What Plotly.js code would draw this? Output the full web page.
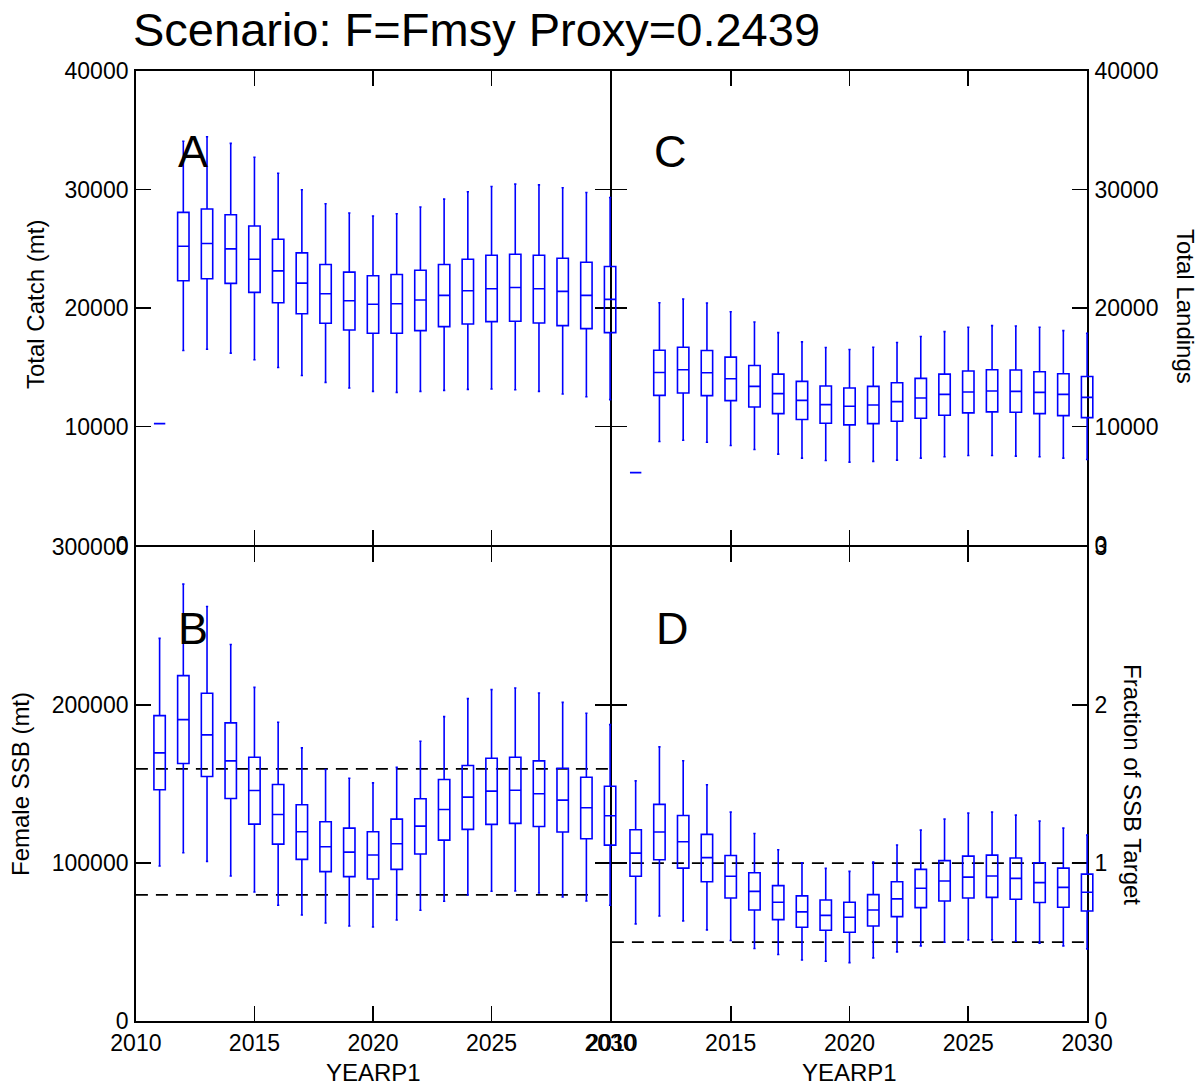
<!DOCTYPE html>
<html>
<head>
<meta charset="utf-8">
<script src="https://cdn.plot.ly/plotly-3.0.1.min.js"></script>
<style>html,body{margin:0;padding:0;background:#fff;}#chart{width:1204px;height:1087px;}</style>
</head>
<body>
<div id="chart"></div>
<script>
// ---------------- DATA ----------------
const years = [2011,2012,2013,2014,2015,2016,2017,2018,2019,2020,2021,2022,2023,2024,2025,2026,2027,2028,2029,2030];

// Panel A: Total Catch (mt)
const catchHigh = [10250,34060,34450,33890,32715,31370,29975,28795,28010,27755,27955,28515,29185,29805,30250,30445,30390,30140,29745,29325];
const catchQ3   = [10250,28067,28345,27870,26915,25800,24650,23670,23025,22715,22830,23190,23670,24115,24450,24535,24450,24200,23865,23505];
const catchMed  = [10250,25210,25435,24985,24115,23135,22100,21200,20610,20310,20360,20670,21065,21455,21620,21735,21620,21400,21065,20730];
const catchQ1   = [10250,22297,22465,22075,21320,20445,19520,18710,18150,17870,17870,18090,18430,18655,18850,18880,18740,18510,18260,17925];
const catchLow  = [10250,16415,16525,16190,15630,14985,14310,13725,13250,12970,12885,12970,13050,13135,13165,13110,12970,12745,12520,12270];

// Panel C: Total Landings
const landHigh = [6110,20445,20755,20420,19690,18825,17925,17140,16665,16495,16695,17085,17590,18010,18375,18510,18485,18375,18090,17870];
const landQ3   = [6110,16440,16695,16415,15855,15155,14425,13810,13420,13250,13390,13695,14060,14425,14680,14790,14765,14620,14455,14225];
const landMed  = [6110,14565,14790,14535,14035,13390,12775,12210,11850,11710,11820,12100,12410,12715,12915,13000,12970,12885,12715,12460];
const landQ1   = [6110,12630,12830,12605,12185,11650,11090,10590,10280,10140,10250,10445,10700,10950,11150,11235,11205,11090,10925,10755];
const landLow  = [6110,8740,8850,8680,8405,8065,7675,7340,7140,7000,7060,7170,7340,7450,7560,7560,7505,7450,7340,7225];

// Panel B: Female SSB (mt)
const ssbHigh = [242100,276450,262300,238300,211140,189030,172870,159160,153680,150740,160620,177040,192640,204010,209690,210750,207600,201670,194730,187580];
const ssbQ3   = [193270,218540,207370,188650,166930,149690,136870,126130,122090,119810,127770,140650,152850,161690,166300,166930,164650,159980,154300,148620];
const ssbMed  = [169700,190740,181070,164650,145900,130740,119810,110340,106930,105040,112220,123350,133900,141670,145480,146090,143820,139770,134970,129920];
const ssbQ1   = [146330,162950,154740,140850,124620,111990,102320,94550,91390,89880,96000,105670,114510,121270,124430,125060,123160,119600,115390,111350];
const ssbLow  = [98100,106540,101060,91770,81680,73270,67140,62090,60190,59560,63980,70110,75790,79770,82110,82300,81040,78510,75980,73270];

// Panel D: Fraction of SSB Target
const fracHigh = [1.520,1.735,1.647,1.495,1.322,1.187,1.084,1.002,0.966,0.947,1.006,1.114,1.208,1.278,1.316,1.322,1.303,1.265,1.221,1.177];
const fracQ3   = [1.211,1.371,1.301,1.181,1.048,0.939,0.857,0.792,0.766,0.752,0.800,0.882,0.960,1.015,1.044,1.050,1.032,1.002,0.968,0.930];
const fracMed  = [1.063,1.196,1.135,1.034,0.916,0.821,0.752,0.691,0.669,0.657,0.703,0.773,0.840,0.886,0.911,0.918,0.903,0.876,0.846,0.815];
const fracQ1   = [0.916,1.021,0.968,0.882,0.779,0.703,0.642,0.594,0.575,0.562,0.602,0.661,0.718,0.760,0.779,0.783,0.771,0.750,0.720,0.697];
const fracLow  = [0.615,0.665,0.634,0.577,0.510,0.459,0.421,0.387,0.379,0.370,0.400,0.438,0.476,0.499,0.514,0.514,0.505,0.493,0.476,0.457];

// Reference lines
const refYears = [2010, 2030];
const ssbRefs  = [159600, 79800];
const fracRefs = [1, 0.5];

// Ticks
const xTicks      = [2010, 2015, 2020, 2025, 2030];
const catchTicks  = [0, 10000, 20000, 30000, 40000];
const ssbTicks    = [0, 100000, 200000, 300000];
const fracTicks   = [0, 1, 2, 3];

// Texts
const titleText = 'Scenario: F=Fmsy Proxy=0.2439';
const panelLetters = ['A', 'C', 'B', 'D'];
const yTitles = ['Total Catch (mt)', 'Total Landings', 'Female SSB (mt)', 'Fraction of SSB Target'];
const xTitle = 'YEARP1';

// ---------------- LAYOUT GEOMETRY ----------------
const W = 1204, H = 1087;
const LW = 1.8;             // frame line width
const h = LW / 2;           // Plotly draws axis lines half a width outside the plot area
const G = {xL: 135, xM: 611, xR: 1088, yT: 70, yM: 546, yB: 1022};
const pxX = v => v / W;
const pxY = v => 1 - v / H;
const yearsSpan = 20;
const pad = 0.3; // years beyond the frame where boxes may still be drawn

const FONT = 'Liberation Sans, Arial, Helvetica, sans-serif';
const BLUE = '#0000ff';

// inner shared edges: shift domains so both panels' lines fall on the same pixel
const panels = [
  {x0: G.xL + h, x1: G.xM - h, y0: G.yM - h, y1: G.yT + h, range: [0, 40000], ticks: catchTicks, side: 'left',  showX: false,
   q: [catchLow, catchQ1, catchMed, catchQ3, catchHigh]},
  {x0: G.xM + h, x1: G.xR - h, y0: G.yM - h, y1: G.yT + h, range: [0, 40000], ticks: catchTicks, side: 'right', showX: false,
   q: [landLow, landQ1, landMed, landQ3, landHigh]},
  {x0: G.xL + h, x1: G.xM - h, y0: G.yB - h, y1: G.yM + h, range: [0, 300000], ticks: ssbTicks, side: 'left',  showX: true,
   q: [ssbLow, ssbQ1, ssbMed, ssbQ3, ssbHigh], refs: ssbRefs},
  {x0: G.xM + h, x1: G.xR - h, y0: G.yB - h, y1: G.yM + h, range: [0, 3], ticks: fracTicks, side: 'right', showX: true,
   q: [fracLow, fracQ1, fracMed, fracQ3, fracHigh], refs: fracRefs}
];

const layout = {
  width: W, height: H,
  margin: {l: 0, r: 0, t: 0, b: 0, pad: 0},
  paper_bgcolor: '#ffffff',
  plot_bgcolor: 'rgba(0,0,0,0)',
  showlegend: false,
  font: {family: FONT, color: '#000', size: 23},
  title: {text: titleText, x: pxX(133), xanchor: 'left', xref: 'paper', y: pxY(30), yanchor: 'middle', yref: 'paper',
          font: {family: FONT, size: 47, color: '#000'}},
  annotations: [],
  hovermode: false
};

const data = [];

panels.forEach((p, i) => {
  const n = i + 1, m = i + 5;
  const xs = n === 1 ? '' : String(n);
  const domX = [pxX(p.x0), pxX(p.x1)];
  const domY = [pxY(p.y0), pxY(p.y1)];
  const padPx = pad * (p.x1 - p.x0) / yearsSpan;
  // visible frame axes
  layout['xaxis' + xs] = {
    domain: domX, range: [2010, 2030], anchor: 'y' + xs,
    tickvals: xTicks, ticktext: xTicks.map(String), showticklabels: p.showX,
    ticks: 'inside', ticklen: 15, tickwidth: LW, tickcolor: '#000',
    showline: true, linecolor: '#000', linewidth: LW, mirror: 'ticks',
    showgrid: false, zeroline: false, fixedrange: true,
    tickfont: {family: FONT, size: 23, color: '#000'}
  };
  layout['yaxis' + xs] = {
    domain: domY, range: p.range, anchor: 'x' + xs, side: p.side,
    tickvals: p.ticks, ticktext: p.ticks.map(String), showticklabels: true,
    ticks: 'inside', ticklen: 15, tickwidth: LW, tickcolor: '#000',
    showline: true, linecolor: '#000', linewidth: LW, mirror: 'ticks',
    showgrid: false, zeroline: false, fixedrange: true,
    ticklabelstandoff: 1,
    tickfont: {family: FONT, size: 23, color: '#000'}
  };
  // hidden data axes (slightly wider so the boxes at the edges are not cut)
  layout['xaxis' + m] = {
    domain: [pxX(p.x0 - padPx), pxX(p.x1 + padPx)], range: [2010 - pad, 2030 + pad],
    anchor: 'y' + m, visible: false, fixedrange: true
  };
  layout['yaxis' + m] = {
    domain: domY, range: p.range, anchor: 'x' + m, visible: false, fixedrange: true
  };

  // invisible placeholder so every frame subplot is created
  data.push({
    type: 'scatter', mode: 'none', xaxis: 'x' + xs, yaxis: 'y' + xs,
    x: refYears, y: refYears.map(() => null), hoverinfo: 'skip', showlegend: false
  });

  data.push({
    type: 'box', xaxis: 'x' + m, yaxis: 'y' + m,
    x: years,
    lowerfence: p.q[0], q1: p.q[1], median: p.q[2], q3: p.q[3], upperfence: p.q[4],
    width: 0.48, whiskerwidth: 0.2, boxpoints: false,
    line: {color: BLUE, width: 1.6}, fillcolor: 'rgba(0,0,0,0)',
    hoverinfo: 'skip', showlegend: false
  });

  if (p.refs) {
    p.refs.forEach(r => {
      data.push({
        type: 'scatter', mode: 'lines', xaxis: 'x' + xs, yaxis: 'y' + xs,
        x: refYears, y: refYears.map(() => r),
        line: {color: '#000', width: 1.8, dash: '12px,8px'},
        hoverinfo: 'skip', showlegend: false
      });
    });
  }
});

// Panel letters
const letterPos = [[176, 151], [652, 152], [176, 628], [654, 628]];
panelLetters.forEach((t, i) => {
  layout.annotations.push({
    text: t, xref: 'paper', yref: 'paper', x: pxX(letterPos[i][0]), y: pxY(letterPos[i][1]),
    xanchor: 'left', yanchor: 'middle', showarrow: false,
    font: {family: FONT, size: 45, color: '#000'}
  });
});

// Axis titles
const yTitlePos = [[35, 305, -90], [1186, 306, 90], [20, 784, -90], [1133, 784, 90]];
yTitles.forEach((t, i) => {
  layout.annotations.push({
    text: t, xref: 'paper', yref: 'paper', x: pxX(yTitlePos[i][0]), y: pxY(yTitlePos[i][1]),
    xanchor: 'center', yanchor: 'middle', textangle: yTitlePos[i][2], showarrow: false,
    font: {family: FONT, size: 24, color: '#000'}
  });
});
[373, 849].forEach(cx => {
  layout.annotations.push({
    text: xTitle, xref: 'paper', yref: 'paper', x: pxX(cx), y: pxY(1072),
    xanchor: 'center', yanchor: 'middle', showarrow: false,
    font: {family: FONT, size: 24, color: '#000'}
  });
});

Plotly.newPlot('chart', data, layout, {staticPlot: true, displayModeBar: false});
</script>
</body>
</html>
